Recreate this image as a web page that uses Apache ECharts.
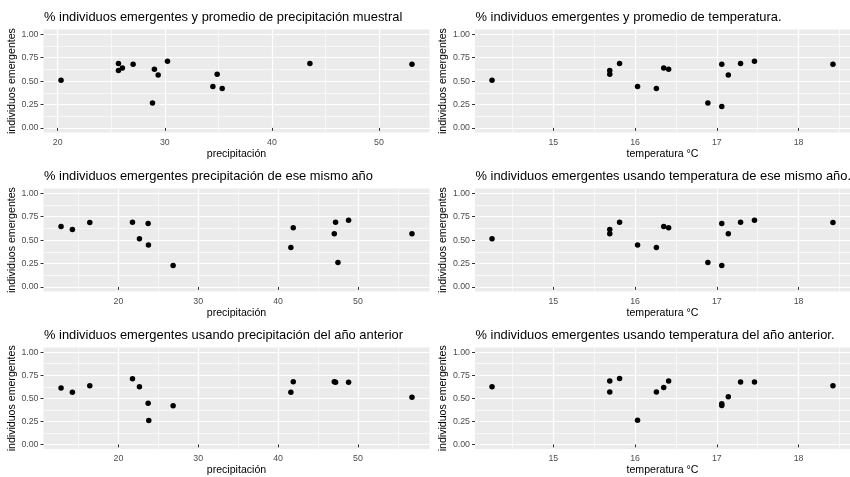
<!DOCTYPE html>
<html>
<head>
<meta charset="utf-8">
<title>% individuos emergentes</title>
<script src="https://cdn.jsdelivr.net/npm/echarts@6/dist/echarts.min.js"></script>
<style>
  html, body { margin: 0; padding: 0; background: #ffffff; }
  #chart { width: 850px; height: 477px; }
</style>
</head>
<body>
<div id="chart"></div>
<script>
// Emergence proportion vs. precipitation / temperature (six panels)

// Panel 1: promedio de precipitación muestral
const precipMuestral = [20.31, 25.67, 25.67, 26.04, 27.04, 28.85, 29.03, 29.38, 30.25, 34.49, 34.89, 35.36, 43.55, 53.08];
const emergPrecipMuestral = [0.509, 0.687, 0.612, 0.641, 0.680, 0.267, 0.626, 0.566, 0.712, 0.441, 0.573, 0.420, 0.687, 0.680];

// Panel 2: promedio de temperatura
const tempPromedio = [14.25, 15.69, 15.69, 15.81, 16.03, 16.26, 16.35, 16.41, 16.89, 17.06, 17.06, 17.14, 17.29, 17.46, 18.42];
const emergTempPromedio = [0.509, 0.612, 0.573, 0.687, 0.441, 0.420, 0.641, 0.626, 0.267, 0.680, 0.228, 0.566, 0.687, 0.712, 0.680];

// Panel 3: precipitación de ese mismo año
const precipMismoAnio = [12.81, 14.23, 16.41, 21.76, 22.63, 23.72, 23.76, 26.85, 41.60, 41.90, 47.04, 47.20, 47.50, 48.83, 56.77];
const emergPrecipMismoAnio = [0.645, 0.613, 0.688, 0.691, 0.514, 0.677, 0.447, 0.230, 0.422, 0.631, 0.567, 0.691, 0.262, 0.713, 0.567];

// Panel 4: temperatura de ese mismo año
const tempMismoAnio = [14.25, 15.69, 15.69, 15.81, 16.03, 16.26, 16.35, 16.41, 16.89, 17.06, 17.06, 17.14, 17.29, 17.46, 18.42];
const emergTempMismoAnio = [0.514, 0.613, 0.567, 0.691, 0.447, 0.422, 0.645, 0.631, 0.262, 0.677, 0.230, 0.567, 0.691, 0.713, 0.688];

// Panel 5: precipitación del año anterior
const precipAnioAnterior = [12.81, 14.23, 16.41, 21.76, 22.63, 23.72, 23.80, 26.85, 41.60, 41.90, 47.04, 47.20, 48.83, 56.77];
const emergPrecipAnioAnterior = [0.612, 0.566, 0.637, 0.712, 0.626, 0.445, 0.260, 0.420, 0.566, 0.680, 0.680, 0.673, 0.673, 0.512];

// Panel 6: temperatura del año anterior
const tempAnioAnterior = [14.25, 15.69, 15.69, 15.81, 16.03, 16.26, 16.35, 16.41, 17.06, 17.06, 17.14, 17.29, 17.46, 18.42];
const emergTempAnioAnterior = [0.626, 0.687, 0.569, 0.715, 0.263, 0.569, 0.616, 0.687, 0.441, 0.423, 0.516, 0.676, 0.676, 0.637];

// Tick labels
const precipMajorTicks = [20, 30, 40, 50];
const precipMinorTicks = [15, 25, 35, 45, 55];
const tempMajorTicks = [15, 16, 17, 18];
const tempMinorTicks = [14.5, 15.5, 16.5, 17.5, 18.5];
const yMajorTicks = [0, 0.25, 0.5, 0.75, 1];
const yMinorTicks = [0.125, 0.375, 0.625, 0.875];

const panelTitles = [
  '% individuos emergentes y promedio de precipitación muestral',
  '% individuos emergentes y promedio de temperatura.',
  '% individuos emergentes precipitación de ese mismo año',
  '% individuos emergentes usando temperatura de ese mismo año.',
  '% individuos emergentes usando precipitación del año anterior',
  '% individuos emergentes usando temperatura del año anterior.'
];
const xTitles = ['precipitación', 'temperatura °C', 'precipitación', 'temperatura °C', 'precipitación', 'temperatura °C'];
const yTitle = 'individuos emergentes';

const panels = [
  { x: precipMuestral, y: emergPrecipMuestral, major: precipMajorTicks, minor: precipMinorTicks },
  { x: tempPromedio, y: emergTempPromedio, major: tempMajorTicks, minor: tempMinorTicks },
  { x: precipMismoAnio, y: emergPrecipMismoAnio, major: precipMajorTicks, minor: precipMinorTicks },
  { x: tempMismoAnio, y: emergTempMismoAnio, major: tempMajorTicks, minor: tempMinorTicks },
  { x: precipAnioAnterior, y: emergPrecipAnioAnterior, major: precipMajorTicks, minor: precipMinorTicks },
  { x: tempAnioAnterior, y: emergTempAnioAnterior, major: tempMajorTicks, minor: tempMinorTicks }
];

// Layout of the 3 x 2 panel grid
const colLeft = [43.5, 475];
const rowTop = [29.6, 188.6, 347.6];
const panelW = 386;
const panelH = 103;

const FONT = '"Liberation Sans", Arial, sans-serif';
const PANEL_BG = '#EBEBEB';

// 5% padding on each side of the data range
function expandRange(vals) {
  const lo = Math.min(...vals), hi = Math.max(...vals);
  const pad = (hi - lo) * 0.05;
  return [lo - pad, hi + pad];
}
function inRange(ticks, r) { return ticks.filter(t => t >= r[0] && t <= r[1]); }

const grid = [], xAxis = [], yAxis = [], series = [], title = [];
const yRange = [-0.05, 1.05];

panels.forEach((p, i) => {
  const col = i % 2, row = Math.floor(i / 2);
  grid.push({
    left: colLeft[col], top: rowTop[row], width: panelW, height: panelH,
    show: true, backgroundColor: PANEL_BG, borderWidth: 0, containLabel: false
  });
  title.push({
    text: panelTitles[i],
    left: colLeft[col] + 0.5, top: rowTop[row] - 18.8,
    textStyle: { fontFamily: FONT, fontSize: 12.9, fontWeight: 'normal', color: '#000000' },
    padding: 0
  });
  const xr = expandRange(p.x);
  const minor = inRange(p.minor, xr), major = inRange(p.major, xr);

  // minor x grid lines
  xAxis.push({
    type: 'value', gridIndex: i, position: 'bottom', min: xr[0], max: xr[1],
    axisLine: { show: false }, axisLabel: { show: false },
    axisTick: { show: false, customValues: minor },
    splitLine: { show: true, lineStyle: { color: '#ffffff', width: 0.6 } }
  });
  // major x axis with ticks, labels and name
  xAxis.push({
    type: 'value', gridIndex: i, position: 'bottom', min: xr[0], max: xr[1],
    axisLine: { show: false },
    axisTick: { show: true, length: 3, customValues: major, lineStyle: { color: '#333333', width: 1 } },
    axisLabel: {
      show: true, customValues: major, margin: 5,
      color: '#4D4D4D', fontSize: 8.8, fontFamily: FONT,
      formatter: v => String(Math.round(v * 100) / 100)
    },
    splitLine: { show: true, lineStyle: { color: '#ffffff', width: 1.2 } },
    name: xTitles[i], nameLocation: 'middle', nameGap: 16,
    nameTextStyle: { fontFamily: FONT, fontSize: 10.6, color: '#000000', verticalAlign: 'top' }
  });
  // minor y grid lines
  yAxis.push({
    type: 'value', gridIndex: i, position: 'left', min: yRange[0], max: yRange[1],
    axisLine: { show: false }, axisLabel: { show: false },
    axisTick: { show: false, customValues: yMinorTicks },
    splitLine: { show: true, lineStyle: { color: '#ffffff', width: 0.6 } }
  });
  // major y axis
  yAxis.push({
    type: 'value', gridIndex: i, position: 'left', min: yRange[0], max: yRange[1],
    axisLine: { show: false },
    axisTick: { show: true, length: 3, customValues: yMajorTicks, lineStyle: { color: '#333333', width: 1 } },
    axisLabel: {
      show: true, customValues: yMajorTicks, margin: 5,
      color: '#4D4D4D', fontSize: 8.8, fontFamily: FONT,
      formatter: v => v.toFixed(2)
    },
    splitLine: { show: true, lineStyle: { color: '#ffffff', width: 1.2 } },
    name: yTitle, nameLocation: 'middle', nameGap: 19, nameRotate: 90,
    nameTextStyle: { fontFamily: FONT, fontSize: 10.6, color: '#000000' }
  });

  series.push({
    type: 'scatter',
    xAxisIndex: 2 * i + 1, yAxisIndex: 2 * i + 1,
    data: p.x.map((v, k) => [v, p.y[k]]),
    symbol: 'circle', symbolSize: 5.5,
    itemStyle: { color: '#000000', opacity: 1 },
    silent: true, z: 5
  });
});

const chart = echarts.init(document.getElementById('chart'), null, { renderer: 'canvas' });
chart.setOption({
  backgroundColor: '#ffffff',
  animation: false,
  title, grid, xAxis, yAxis, series
});
</script>
</body>
</html>
